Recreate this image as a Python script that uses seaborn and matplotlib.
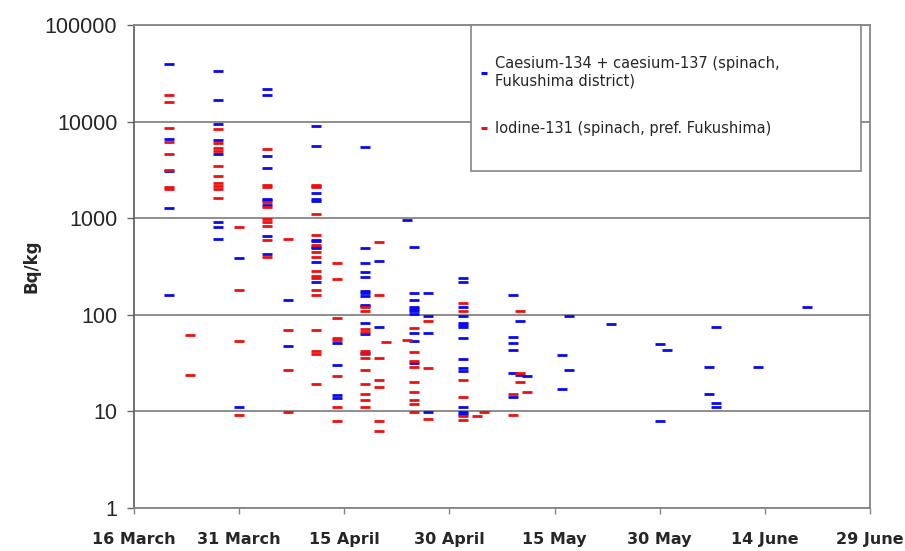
import matplotlib
matplotlib.use("Agg")
import matplotlib.pyplot as plt
from matplotlib.lines import Line2D
from matplotlib.patches import Rectangle
from matplotlib.ticker import NullLocator
import seaborn as sns
import pandas as pd

# ---------------- data ----------------
series_names = ["Caesium-134 + caesium-137 (spinach,\nFukushima district)",
                "Iodine-131 (spinach, pref. Fukushima)"]

cs_dates = (["2011-03-21"] * 5 + ["2011-03-28"] * 8 + ["2011-03-31"] * 2 +
            ["2011-04-04"] * 9 + ["2011-04-07"] * 2 + ["2011-04-11"] * 12 +
            ["2011-04-14"] * 4 + ["2011-04-18"] * 13 + ["2011-04-20"] * 2 +
            ["2011-04-24"] * 1 + ["2011-04-25"] * 10 + ["2011-04-27"] * 4 +
            ["2011-05-02"] * 14 + ["2011-05-09"] * 6 + ["2011-05-10"] * 2 +
            ["2011-05-11"] * 1 + ["2011-05-16"] * 2 + ["2011-05-17"] * 2 +
            ["2011-05-23"] * 1 + ["2011-05-30"] * 2 + ["2011-05-31"] * 1 +
            ["2011-06-06"] * 2 + ["2011-06-07"] * 3 + ["2011-06-13"] * 1 +
            ["2011-06-20"] * 1)
cs_values = [39800, 6600, 3100, 1290, 160,
             33700, 16700, 9500, 6400, 4570, 920, 805, 610,
             383, 11.1,
             22000, 18900, 4400, 3310, 1590, 1540, 1370, 660, 428,
             141, 47,
             8900, 5620, 2150, 1840, 1570, 1500, 600, 575, 505, 486, 350, 221,
             50.7, 30.2, 14.8, 13.9,
             5400, 489, 340, 280, 249, 176, 167, 155, 125, 123, 82.5, 63.5, 40,
             359, 74,
             960,
             505, 169, 142, 121, 114, 109, 101, 65, 53.5, 32,
             169, 97, 65, 9.9,
             242, 218, 120, 97, 82, 78, 74, 58, 35, 28, 26, 11.1, 9.9, 9.4,
             160, 58.8, 50.7, 43, 25.2, 14.2,
             87, 24,
             23,
             38, 17,
             98, 27,
             81,
             50, 8,
             43,
             28.7, 15.1,
             75.6, 12.1, 11.1,
             28.7,
             121]

i_dates = (["2011-03-21"] * 8 + ["2011-03-24"] * 2 + ["2011-03-28"] * 10 +
           ["2011-03-31"] * 4 + ["2011-04-04"] * 10 + ["2011-04-07"] * 4 +
           ["2011-04-11"] * 16 + ["2011-04-14"] * 8 + ["2011-04-18"] * 12 +
           ["2011-04-20"] * 7 + ["2011-04-21"] * 1 + ["2011-04-24"] * 1 +
           ["2011-04-25"] * 9 + ["2011-04-27"] * 3 + ["2011-05-02"] * 6 +
           ["2011-05-04"] * 1 + ["2011-05-05"] * 1 + ["2011-05-09"] * 2 +
           ["2011-05-10"] * 3 + ["2011-05-11"] * 1)
i_values = [18900, 16000, 8500, 6180, 4570, 3180, 2100, 2000,
            61.7, 24,
            8430, 6000, 5270, 5000, 3490, 2710, 2300, 2170, 2010, 1620,
            805, 180, 54, 9.2,
            5200, 2220, 2120, 1480, 1310, 980, 920, 840, 595, 400,
            615, 69.5, 27, 9.9,
            2220, 2100, 1100, 665, 530, 452, 392, 282, 253, 242, 182, 161, 70, 42, 39, 19.1,
            340, 232, 93, 58, 55.5, 23, 11.1, 7.9,
            120, 109, 72, 66, 42, 39, 35.5, 27, 19.1, 15, 13, 11.1,
            564, 161, 36, 21, 18, 7.9, 6.2,
            52.7,
            55,
            72.6, 41, 33, 29, 20.2, 16, 13.1, 12, 9.9,
            86, 28, 8.3,
            131, 109, 21, 14, 9, 8.1,
            9.05,
            9.9,
            15, 9.2,
            109, 24.8, 20,
            16]

x_tick_dates = ["2011-03-16", "2011-03-31", "2011-04-15", "2011-04-30",
                "2011-05-15", "2011-05-30", "2011-06-14", "2011-06-29"]
x_tick_labels = ["16 March", "31 March", "15 April", "30 April",
                 "15 May", "30 May", "14 June", "29 June"]
y_ticks = [1, 10, 100, 1000, 10000, 100000]
y_tick_labels = ["1", "10", "100", "1000", "10000", "100000"]
colors = ["#0a0aee", "#ee1010"]

# ---------------- figure ----------------
sns.set_style("white")
plt.rcParams["font.family"] = ["DejaVu Sans"]

df = pd.concat([
    pd.DataFrame({"date": pd.to_datetime(cs_dates), "value": cs_values, "series": series_names[0]}),
    pd.DataFrame({"date": pd.to_datetime(i_dates), "value": i_values, "series": series_names[1]}),
], ignore_index=True)

fig = plt.figure(figsize=(9.05, 5.51), dpi=100)
ax = fig.add_axes([134 / 905, 1 - 508 / 551, 736 / 905, 483 / 551])

sns.scatterplot(data=df, x="date", y="value", hue="series",
                palette=dict(zip(series_names, colors)),
                marker="_", s=52, linewidth=2.0, legend=False, ax=ax, zorder=3)

ax.set_yscale("log")
ax.set_ylim(1, 100000)
ax.set_yticks(y_ticks)
ax.set_yticklabels(y_tick_labels, fontfamily="Liberation Sans", fontsize=15.5)
ax.yaxis.set_minor_locator(NullLocator())

ax.set_xlim(pd.Timestamp(x_tick_dates[0]), pd.Timestamp(x_tick_dates[-1]))
ax.set_xticks(pd.to_datetime(x_tick_dates))
ax.set_xticklabels(x_tick_labels, fontweight="bold", fontsize=11.5)
ax.xaxis.set_minor_locator(NullLocator())

ax.set_xlabel("")
ax.set_ylabel("Bq/kg", fontweight="bold", fontsize=12, labelpad=3)

gray = "#858585"
ax.yaxis.grid(True, color=gray, linewidth=1.3)
ax.xaxis.grid(False)
ax.set_axisbelow(True)
for sp in ax.spines.values():
    sp.set_visible(True)
    sp.set_color(gray)
    sp.set_linewidth(1.3)
ax.spines["left"].set_color("#666666")
ax.tick_params(axis="y", direction="out", length=5, width=1, color="#666666", pad=7, left=True)
ax.tick_params(axis="x", direction="out", length=4, width=1, color=gray, pad=13, bottom=True)

# legend box
ax.add_patch(Rectangle((0.4579, 0.6983), 0.5299, 0.3017, transform=ax.transAxes,
                       facecolor="white", edgecolor=gray, linewidth=1.2,
                       zorder=4, clip_on=False))
handles = [Line2D([], [], linestyle="none", marker="_", color=c,
                  markersize=5, markeredgewidth=2.2) for c in colors]
leg = ax.legend(handles, series_names, loc="upper left",
                bbox_to_anchor=(0.470, 0.936), frameon=False, fontsize=10.5,
                handlelength=0.5, handletextpad=0.5, labelspacing=2.25,
                borderpad=0, borderaxespad=0)
leg.set_zorder(5)

fig.savefig("out.png", dpi=100)
